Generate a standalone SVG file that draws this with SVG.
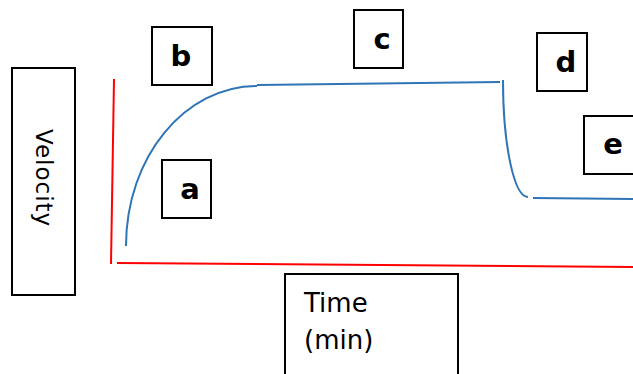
<svg xmlns="http://www.w3.org/2000/svg" width="633" height="374" viewBox="0 0 633 374">
<style>
.box{fill:#fff;stroke:#000;stroke-width:2}
.lbl{font-family:"DejaVu Sans","Liberation Sans",sans-serif;font-weight:bold;font-size:29px;fill:#000;text-anchor:middle}
.txt{font-family:"DejaVu Sans","Liberation Sans",sans-serif;font-size:26px;fill:#000}
.axis{fill:none;stroke:#ff0000;stroke-width:2}
.curve{fill:none;stroke:#2e75b6;stroke-width:2}
</style>
<rect width="633" height="374" fill="#fff"/>
<g id="axes">
<line class="axis" x1="114" y1="79" x2="111" y2="264"/>
<line class="axis" x1="117" y1="263" x2="633" y2="267"/>
</g>
<g id="connectors">
<path class="curve" d="M126,246 C126,157 185,86 257,86"/>
<path class="curve" d="M257,85 L500,82"/>
<path class="curve" d="M503,80 C503,145 514,197 528,197"/>
<path class="curve" d="M533,198 L633,199"/>
</g>
<g id="velocity">
<rect class="box" x="12" y="68" width="63" height="227"/>
<text class="txt" style="font-size:23px;letter-spacing:1px" transform="translate(36,129) rotate(90)">Velocity</text>
</g>
<g id="time">
<rect class="box" x="285" y="274" width="173" height="110"/>
<text class="txt" x="304" y="312">Time</text>
<text class="txt" x="304" y="349">(min)</text>
</g>
<g id="a"><rect class="box" x="162" y="160" width="49" height="58"/><text class="lbl" x="190" y="199">a</text></g>
<g id="b"><rect class="box" x="152" y="27" width="60" height="58"/><text class="lbl" x="181" y="66">b</text></g>
<g id="c"><rect class="box" x="354" y="10" width="49" height="58"/><text class="lbl" x="382" y="49">c</text></g>
<g id="d"><rect class="box" x="537" y="33" width="50" height="58"/><text class="lbl" x="566" y="72">d</text></g>
<g id="e"><rect class="box" x="584" y="116" width="52" height="58"/><text class="lbl" x="613" y="154">e</text></g>
</svg>
